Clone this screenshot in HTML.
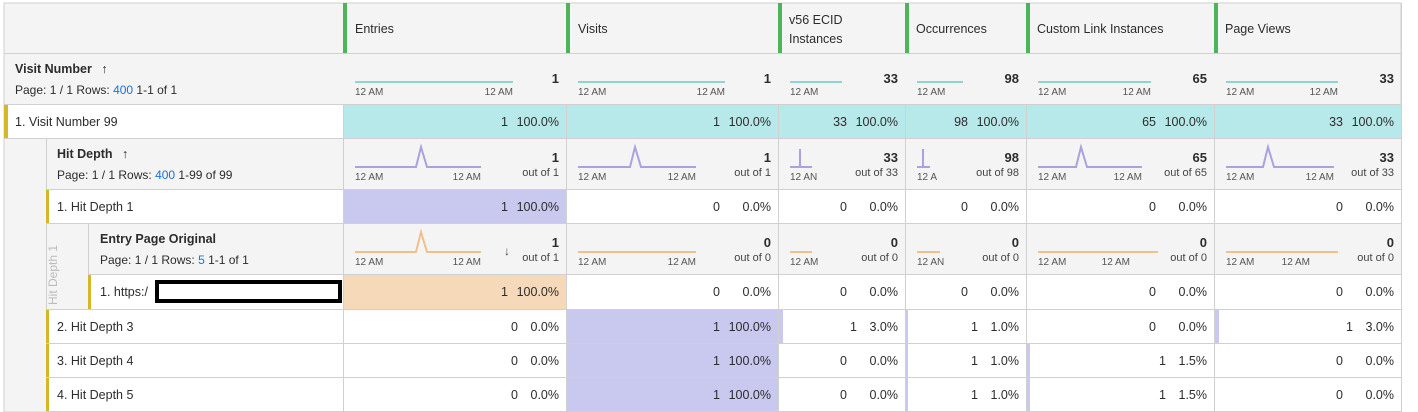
<!DOCTYPE html>
<html><head><meta charset="utf-8"><style>
html,body{margin:0;padding:0;background:#fff;}
svg{display:block;font-family:"Liberation Sans",sans-serif;}
</style></head><body>
<svg width="1418" height="412" xmlns="http://www.w3.org/2000/svg">
<rect x="0" y="0" width="1418" height="412" fill="#fff"/>
<rect x="4" y="3" width="1397" height="409" fill="#f4f4f4" stroke="#d0d0d0"/>
<g fill="#4db45a">
<rect x="343" y="3" width="4" height="50"/><rect x="566" y="3" width="4" height="50"/><rect x="778" y="3" width="4" height="50"/><rect x="905" y="3" width="4" height="50"/><rect x="1026" y="3" width="4" height="50"/><rect x="1214" y="3" width="4" height="50"/>
</g>
<g fill="#2c2c2c" font-size="12.5">
<text x="355" y="33">Entries</text><text x="578" y="33">Visits</text>
<text x="789" y="24">v56 ECID</text><text x="789" y="43">Instances</text>
<text x="916" y="33">Occurrences</text><text x="1037" y="33">Custom Link Instances</text><text x="1225" y="33">Page Views</text>
</g>
<g stroke="#d0d0d0" stroke-width="1">
<line x1="4" y1="53.5" x2="1401" y2="53.5"/><line x1="4" y1="104.5" x2="1401" y2="104.5"/>
<line x1="4" y1="138.5" x2="1401" y2="138.5"/>
</g>
<text x="15" y="73" font-size="12.5" font-weight="bold" fill="#2c2c2c">Visit Number <tspan dx="6">↑</tspan></text>
<text x="15" y="94" font-size="12" fill="#2c2c2c">Page: 1 / 1 Rows: <tspan fill="#1473e6">400</tspan>  1-1 of 1</text>
<g stroke="#8fd3d3" stroke-width="2">
<line x1="355" y1="82" x2="513" y2="82"/><line x1="578" y1="82" x2="725" y2="82"/><line x1="790" y1="82" x2="842" y2="82"/><line x1="917" y1="82" x2="963" y2="82"/><line x1="1038" y1="82" x2="1151" y2="82"/><line x1="1226" y1="82" x2="1338" y2="82"/>
</g>
<g font-size="10" fill="#555">
<text x="355" y="95">12 AM</text><text x="513" y="95" text-anchor="end">12 AM</text>
<text x="578" y="95">12 AM</text><text x="725" y="95" text-anchor="end">12 AM</text>
<text x="790" y="95">12 AM</text><text x="917" y="95">12 AM</text>
<text x="1038" y="95">12 AM</text><text x="1151" y="95" text-anchor="end">12 AM</text>
<text x="1226" y="95">12 AM</text><text x="1338" y="95" text-anchor="end">12 AM</text>
</g>
<g font-size="13" font-weight="bold" fill="#2c2c2c" text-anchor="end">
<text x="559" y="83">1</text><text x="771" y="83">1</text><text x="898" y="83">33</text><text x="1019" y="83">98</text><text x="1207" y="83">65</text><text x="1394" y="83">33</text>
</g>
<rect x="4" y="105" width="339" height="33" fill="#fff"/>
<rect x="4" y="105" width="4" height="33" fill="#d6b826"/>
<rect x="343" y="105" width="1058" height="33" fill="#b8e9ea"/>
<text x="15" y="126" font-size="12.5" fill="#2c2c2c">1.  Visit Number 99</text>
<rect x="46" y="139" width="1355" height="50" fill="#f4f4f4"/>
<line x1="46.5" y1="139" x2="46.5" y2="412" stroke="#d0d0d0"/>
<text x="57" y="158" font-size="12.5" font-weight="bold" fill="#2c2c2c">Hit Depth <tspan dx="6">↑</tspan></text>
<text x="57" y="179" font-size="12" fill="#2c2c2c">Page: 1 / 1 Rows: <tspan fill="#1473e6">400</tspan>  1-99 of 99</text>
<g stroke="#a9a2de" stroke-width="2" fill="none">
<polyline points="355,167 416,167 421,147 427,167 481,167"/>
<polyline points="578,167 630,167 635,147 641,167 696,167"/>
<polyline points="790,167 800,167 800,149 800,167 812,167"/>
<polyline points="917,167 923,167 923,149 923,167 930,167"/>
<polyline points="1038,167 1076,167 1081,147 1087,167 1142,167"/>
<polyline points="1226,167 1263,167 1268,147 1274,167 1334,167"/>
</g>
<g font-size="10" fill="#555">
<text x="355" y="180">12 AM</text><text x="481" y="180" text-anchor="end">12 AM</text>
<text x="578" y="180">12 AM</text><text x="696" y="180" text-anchor="end">12 AM</text>
<text x="790" y="180">12 AN</text><text x="917" y="180">12 A</text>
<text x="1038" y="180">12 AM</text><text x="1142" y="180" text-anchor="end">12 AM</text>
<text x="1226" y="180">12 AM</text><text x="1334" y="180" text-anchor="end">12 AM</text>
</g>
<g font-size="13" font-weight="bold" fill="#2c2c2c" text-anchor="end">
<text x="559" y="162">1</text><text x="771" y="162">1</text><text x="898" y="162">33</text><text x="1019" y="162">98</text><text x="1207" y="162">65</text><text x="1394" y="162">33</text>
</g>
<g font-size="11" fill="#444" text-anchor="end">
<text x="559" y="176">out of 1</text><text x="771" y="176">out of 1</text><text x="898" y="176">out of 33</text><text x="1019" y="176">out of 98</text><text x="1207" y="176">out of 65</text><text x="1394" y="176">out of 33</text>
</g>
<rect x="47" y="190" width="1354" height="33" fill="#fff"/>
<rect x="88" y="275" width="1313" height="34" fill="#fff"/>
<rect x="47" y="310" width="1354" height="101" fill="#fff"/>
<rect x="343" y="190" width="223" height="33" fill="#c9c8ef"/>
<rect x="343" y="275" width="223" height="34" fill="#f6d9b9"/>
<rect x="566" y="310" width="212" height="101" fill="#c9c8ef"/>
<rect x="779" y="310" width="4" height="33" fill="#c9c8ef"/>
<rect x="906" y="310" width="2" height="101" fill="#c9c8ef"/>
<rect x="1027" y="344" width="3" height="67" fill="#c9c8ef"/>
<rect x="1215" y="310" width="4" height="33" fill="#c9c8ef"/>
<rect x="88" y="224" width="1313" height="50" fill="#f4f4f4"/>
<line x1="88.5" y1="224" x2="88.5" y2="309" stroke="#d0d0d0"/>
<text transform="translate(57,305) rotate(-90)" font-size="12" fill="#bbb">Hit Depth 1</text>
<text x="100" y="243" font-size="12.5" font-weight="bold" fill="#2c2c2c">Entry Page Original</text>
<text x="100" y="264" font-size="12" fill="#2c2c2c">Page: 1 / 1 Rows: <tspan fill="#1473e6">5</tspan>  1-1 of 1</text>
<g stroke="#f0c08a" stroke-width="2" fill="none">
<polyline points="355,252 416,252 421,232 427,252 481,252"/>
<line x1="578" y1="252" x2="696" y2="252"/><line x1="790" y1="252" x2="812" y2="252"/><line x1="917" y1="252" x2="940" y2="252"/><line x1="1038" y1="252" x2="1158" y2="252"/><line x1="1226" y1="252" x2="1338" y2="252"/>
</g>
<g font-size="10" fill="#555">
<text x="355" y="265">12 AM</text><text x="481" y="265" text-anchor="end">12 AM</text>
<text x="578" y="265">12 AM</text><text x="696" y="265" text-anchor="end">12 AM</text>
<text x="790" y="265">12 AM</text><text x="917" y="265">12 AN</text>
<text x="1038" y="265">12 AM</text><text x="1130" y="265" text-anchor="end">12 AM</text>
<text x="1226" y="265">12 AM</text><text x="1310" y="265" text-anchor="end">12 AM</text>
</g>
<text x="507" y="255" font-size="12" font-weight="bold" fill="#444" text-anchor="middle">↓</text>
<g font-size="13" font-weight="bold" fill="#2c2c2c" text-anchor="end">
<text x="559" y="247">1</text><text x="771" y="247">0</text><text x="898" y="247">0</text><text x="1019" y="247">0</text><text x="1207" y="247">0</text><text x="1394" y="247">0</text>
</g>
<g font-size="11" fill="#444" text-anchor="end">
<text x="559" y="261">out of 1</text><text x="771" y="261">out of 0</text><text x="898" y="261">out of 0</text><text x="1019" y="261">out of 0</text><text x="1207" y="261">out of 0</text><text x="1394" y="261">out of 0</text>
</g>
<g fill="#d6b826">
<rect x="46" y="190" width="3" height="33"/><rect x="88" y="275" width="3" height="34"/>
<rect x="46" y="310" width="3" height="33"/><rect x="46" y="344" width="3" height="33"/><rect x="46" y="378" width="3" height="33"/>
</g>
<g font-size="12.5" fill="#2c2c2c">
<text x="57" y="211">1.  Hit Depth 1</text>
<text x="100" y="296">1.  https:/</text>
<text x="57" y="331">2.  Hit Depth 3</text>
<text x="57" y="365">3.  Hit Depth 4</text>
<text x="57" y="399">4.  Hit Depth 5</text>
</g>
<rect x="157" y="282" width="183" height="19" fill="#fff" stroke="#000" stroke-width="4"/>
<g stroke="#d0d0d0" stroke-width="1">
<line x1="46" y1="189.5" x2="1401" y2="189.5"/><line x1="47" y1="223.5" x2="1401" y2="223.5"/>
<line x1="88" y1="274.5" x2="1401" y2="274.5"/><line x1="47" y1="309.5" x2="1401" y2="309.5"/>
<line x1="47" y1="343.5" x2="1401" y2="343.5"/><line x1="47" y1="377.5" x2="1401" y2="377.5"/>
<line x1="47" y1="411.5" x2="1401" y2="411.5"/>
<line x1="343.5" y1="104" x2="343.5" y2="412"/>
<line x1="566.5" y1="104" x2="566.5" y2="412"/><line x1="778.5" y1="104" x2="778.5" y2="412"/>
<line x1="905.5" y1="104" x2="905.5" y2="412"/><line x1="1026.5" y1="104" x2="1026.5" y2="412"/>
<line x1="1214.5" y1="104" x2="1214.5" y2="412"/><line x1="1401.5" y1="3" x2="1401.5" y2="412"/>
</g>
<g font-size="12.5" fill="#2c2c2c" text-anchor="end">
<text x="508" y="126">1</text><text x="559" y="126">100.0%</text>
<text x="720" y="126">1</text><text x="771" y="126">100.0%</text>
<text x="847" y="126">33</text><text x="898" y="126">100.0%</text>
<text x="968" y="126">98</text><text x="1019" y="126">100.0%</text>
<text x="1156" y="126">65</text><text x="1207" y="126">100.0%</text>
<text x="1343" y="126">33</text><text x="1394" y="126">100.0%</text>

<text x="508" y="211">1</text><text x="559" y="211">100.0%</text>
<text x="720" y="211">0</text><text x="771" y="211">0.0%</text>
<text x="847" y="211">0</text><text x="898" y="211">0.0%</text>
<text x="968" y="211">0</text><text x="1019" y="211">0.0%</text>
<text x="1156" y="211">0</text><text x="1207" y="211">0.0%</text>
<text x="1343" y="211">0</text><text x="1394" y="211">0.0%</text>

<text x="508" y="296">1</text><text x="559" y="296">100.0%</text>
<text x="720" y="296">0</text><text x="771" y="296">0.0%</text>
<text x="847" y="296">0</text><text x="898" y="296">0.0%</text>
<text x="968" y="296">0</text><text x="1019" y="296">0.0%</text>
<text x="1156" y="296">0</text><text x="1207" y="296">0.0%</text>
<text x="1343" y="296">0</text><text x="1394" y="296">0.0%</text>

<text x="518" y="331">0</text><text x="559" y="331">0.0%</text>
<text x="720" y="331">1</text><text x="771" y="331">100.0%</text>
<text x="857" y="331">1</text><text x="898" y="331">3.0%</text>
<text x="978" y="331">1</text><text x="1019" y="331">1.0%</text>
<text x="1156" y="331">0</text><text x="1207" y="331">0.0%</text>
<text x="1353" y="331">1</text><text x="1394" y="331">3.0%</text>

<text x="518" y="365">0</text><text x="559" y="365">0.0%</text>
<text x="720" y="365">1</text><text x="771" y="365">100.0%</text>
<text x="847" y="365">0</text><text x="898" y="365">0.0%</text>
<text x="978" y="365">1</text><text x="1019" y="365">1.0%</text>
<text x="1166" y="365">1</text><text x="1207" y="365">1.5%</text>
<text x="1343" y="365">0</text><text x="1394" y="365">0.0%</text>

<text x="518" y="399">0</text><text x="559" y="399">0.0%</text>
<text x="720" y="399">1</text><text x="771" y="399">100.0%</text>
<text x="847" y="399">0</text><text x="898" y="399">0.0%</text>
<text x="978" y="399">1</text><text x="1019" y="399">1.0%</text>
<text x="1166" y="399">1</text><text x="1207" y="399">1.5%</text>
<text x="1343" y="399">0</text><text x="1394" y="399">0.0%</text>
</g>
</svg>
</body></html>
